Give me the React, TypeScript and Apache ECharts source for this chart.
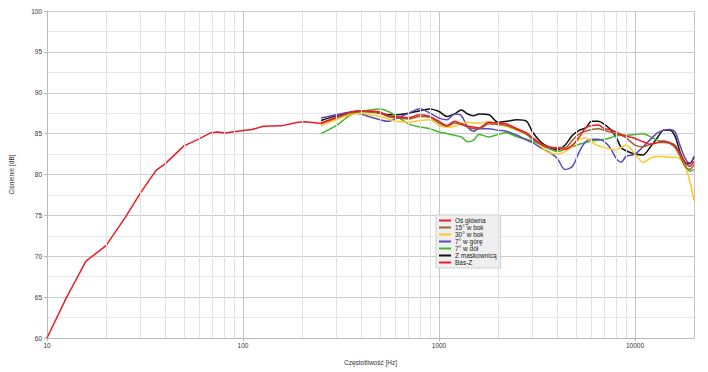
import React, { useEffect, useRef } from "react";
import * as echarts from "echarts";

const bassFreq = [10, 12.6, 13.9, 15.8, 20, 25, 30, 36, 40, 50, 59, 68, 74, 81, 98, 111, 127, 157, 191, 207, 252];
const bassZ = [60, 65.0, 66.9, 69.4, 71.3, 74.7, 77.75, 80.5, 81.3, 83.5, 84.3, 85.07, 85.2, 85.07, 85.35, 85.5, 85.9, 85.95, 86.4, 86.45, 86.25];

const freq = [250, 300, 350, 400, 450, 500, 550, 600, 700, 800, 900, 1000, 1100, 1200, 1300, 1400, 1500, 1600, 1800, 2000, 2200, 2500, 2800, 3000, 3300, 3600, 4000, 4400, 4800, 5200, 5600, 6000, 6500, 7000, 7500, 8000, 8500, 9000, 10000, 11000, 12000, 13000, 14000, 15000, 16000, 17000, 18000, 19000, 20000];

const osGlowna = [86.3, 87.0, 87.6, 87.8, 87.75, 87.65, 87.2, 87.05, 86.95, 87.3, 87.1, 86.5, 86.0, 86.5, 86.2, 85.9, 85.8, 85.7, 86.4, 86.3, 86.2, 85.6, 85.1, 84.5, 83.8, 83.4, 83.2, 83.1, 83.6, 84.6, 85.7, 86.0, 86.05, 85.6, 85.5, 85.2, 84.9, 84.7, 84.4, 84.0, 83.7, 83.9, 84.1, 83.9, 83.5, 82.5, 81.5, 81.0, 81.6];
const bok15 = [86.2, 86.9, 87.5, 87.7, 87.6, 87.5, 87.1, 86.9, 86.8, 87.1, 87.0, 86.3, 85.9, 86.3, 86.1, 85.8, 85.6, 85.6, 86.2, 86.1, 86.0, 85.5, 84.9, 84.3, 83.7, 83.3, 83.3, 83.3, 84.2, 85.0, 85.3, 85.5, 85.6, 85.4, 85.2, 85.0, 84.8, 84.5, 83.6, 83.4, 83.7, 83.9, 83.9, 83.8, 83.3, 82.2, 81.0, 80.6, 81.2];
const bok30 = [85.95, 86.7, 87.3, 87.5, 87.3, 87.1, 86.8, 86.5, 86.4, 86.6, 86.7, 86.0, 85.8, 85.9, 86.2, 86.4, 86.3, 86.3, 86.45, 86.1, 85.9, 85.4, 84.9, 84.5, 83.5, 82.7, 82.5, 82.8, 83.5, 84.3, 84.5, 84.0, 83.5, 83.3, 83.1, 83.0, 83.3, 83.6, 82.5, 81.5, 82.0, 82.2, 82.2, 82.1, 82.1, 81.9, 81.0, 79.3, 76.8];
const gora7 = [86.9, 87.3, 87.6, 87.4, 87.0, 86.7, 86.5, 86.8, 87.5, 88.05, 87.5, 86.9, 86.7, 87.4, 87.2, 85.8, 85.3, 85.6, 85.6, 85.4, 85.3, 84.8, 84.2, 83.9, 83.3, 82.8, 82.0, 80.6, 81.0, 82.8, 84.0, 84.3, 84.3, 84.0, 83.2, 82.0, 81.5, 82.2, 82.5, 83.4, 84.3, 85.1, 85.4, 85.5, 85.2, 83.5, 82.0, 81.4, 82.1];
const dol7 = [85.0, 86.0, 87.2, 87.7, 87.9, 88.0, 87.7, 87.2, 86.2, 85.8, 85.6, 85.2, 85.0, 84.8, 84.6, 84.0, 84.2, 84.9, 84.6, 84.9, 85.1, 84.6, 84.3, 84.1, 83.6, 83.2, 82.8, 83.1, 83.4, 83.7, 83.9, 84.1, 84.2, 84.3, 84.5, 84.7, 84.8, 84.8, 84.9, 85.0, 84.6, 84.2, 84.0, 83.9, 83.6, 82.5, 81.2, 80.4, 80.6];
const maskownica = [86.6, 87.2, 87.6, 87.8, 87.7, 87.5, 87.3, 87.3, 87.5, 87.8, 88.0, 87.7, 87.1, 87.4, 87.9, 87.4, 87.2, 87.4, 87.3, 86.4, 86.5, 86.7, 86.5, 85.2, 84.0, 83.4, 83.0, 83.6, 84.8, 85.4, 85.7, 86.5, 86.5, 86.1, 85.5, 84.6, 83.3, 82.9, 82.5, 82.4, 83.4, 84.5, 85.4, 85.4, 84.7, 82.7, 81.5, 81.3, 82.2];

const minorFreqs = [20, 30, 40, 50, 60, 70, 80, 90, 200, 300, 400, 500, 600, 700, 800, 900, 2000, 3000, 4000, 5000, 6000, 7000, 8000, 9000];

const names = ["Oś główna", "15° w bok", "30° w bok", "7° w górę", "7° w dół", "Z maskownicą", "Bas-Z"];
const colors: Record<string, string> = {
  "Oś główna": "#ee1b24",
  "15° w bok": "#9a6630",
  "30° w bok": "#ffc91f",
  "7° w górę": "#5a4bb8",
  "7° w dół": "#45b72c",
  "Z maskownicą": "#111111",
  "Bas-Z": "#ee1b24",
};

const pairs = (xs: number[], ys: number[]) => xs.map((x, i) => [x, ys[i]]);

export default function App() {
  const ref = useRef<HTMLDivElement>(null);
  useEffect(() => {
    if (!ref.current) return;
    const chart = echarts.init(ref.current, undefined, { renderer: "svg" });
    const font = "Liberation Sans, Arial, sans-serif";
    const mk = (name: string, xs: number[], ys: number[], smooth: boolean | number, z: number) => ({
      name,
      type: "line",
      data: pairs(xs, ys),
      showSymbol: false,
      symbol: "none",
      smooth,
      z,
      lineStyle: { color: colors[name], width: 1.5 },
      itemStyle: { color: colors[name] },
    });
    chart.setOption({
      animation: false,
      backgroundColor: "#ffffff",
      textStyle: { fontFamily: font },
      grid: { left: 45, right: 14, top: 11, bottom: 34, containLabel: false },
      legend: {
        data: names,
        orient: "vertical",
        left: 436,
        top: 215,
        icon: "rect",
        itemWidth: 12,
        itemHeight: 2,
        itemGap: 0,
        padding: [2, 4, 2, 3],
        backgroundColor: "#efefef",
        borderColor: "#cfcfcf",
        borderWidth: 1,
        textStyle: { fontSize: 6.5, lineHeight: 6.9, color: "#222", fontFamily: font, padding: [0, 0, 0, -1] },
      },
      xAxis: {
        type: "log",
        logBase: 10,
        min: 10,
        max: 20000,
        interval: 1,
        name: "Częstotliwość [Hz]",
        nameLocation: "middle",
        nameGap: 21,
        nameTextStyle: { fontSize: 6.5, color: "#333", fontFamily: font },
        axisLine: { show: true, lineStyle: { color: "#b8b8b8", width: 1 } },
        axisTick: { show: true, length: 3, lineStyle: { color: "#b8b8b8" } },
        axisLabel: {
          fontSize: 6.5,
          color: "#333",
          margin: 4,
          showMaxLabel: false,
          fontFamily: font,
          formatter: (v: number) => String(Math.round(v)),
        },
        splitLine: { show: true, lineStyle: { color: "#c4c4c4", width: 1 } },
      },
      yAxis: {
        type: "value",
        min: 60,
        max: 100,
        interval: 5,
        name: "Ciśnienie [dB]",
        nameLocation: "middle",
        nameGap: 32,
        nameRotate: 90,
        nameTextStyle: { fontSize: 6.5, color: "#333", fontFamily: font },
        axisLine: { show: true, lineStyle: { color: "#b8b8b8", width: 1 } },
        axisTick: { show: true, length: 3, lineStyle: { color: "#b8b8b8" } },
        axisLabel: { fontSize: 6.5, color: "#333", margin: 5, fontFamily: font },
        splitLine: { show: true, lineStyle: { color: "#cccccc", width: 1 } },
        minorTick: { show: false, splitNumber: 2 },
        minorSplitLine: { show: true, lineStyle: { color: "#e8e8e8", width: 1 } },
      },
      series: [
        {
          name: "minor",
          type: "line",
          data: [],
          silent: true,
          z: 1,
          markLine: {
            silent: true,
            symbol: "none",
            animation: false,
            label: { show: false },
            lineStyle: { color: "#e2e2e2", width: 1, type: "solid" },
            data: minorFreqs.map((f) => ({ xAxis: f })),
          },
        },
        mk("Bas-Z", bassFreq, bassZ, false, 3),
        mk("Z maskownicą", freq, maskownica, 0.3, 3),
        mk("7° w dół", freq, dol7, 0.3, 3),
        mk("7° w górę", freq, gora7, 0.3, 3),
        mk("30° w bok", freq, bok30, 0.3, 3),
        mk("15° w bok", freq, bok15, 0.3, 3),
        mk("Oś główna", freq, osGlowna, 0.3, 3),
      ],
    });
    return () => chart.dispose();
  }, []);
  return <div ref={ref} style={{ position: "fixed", left: 0, top: 0, width: 708, height: 372 }} />;
}
